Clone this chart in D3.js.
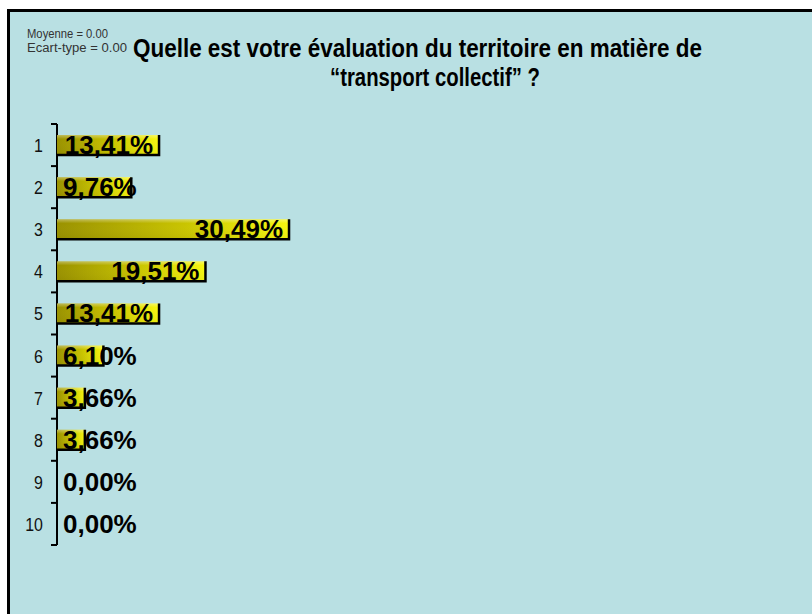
<!DOCTYPE html>
<html>
<head>
<meta charset="utf-8">
<script src="https://cdn.jsdelivr.net/npm/d3@7"></script>
<style>
  html, body { margin: 0; padding: 0; background: #ffffff; }
  svg { display: block; }
</style>
</head>
<body>
<svg id="chart" width="812" height="614"></svg>
<script>
// ---- data ----
const categories = ["1", "2", "3", "4", "5", "6", "7", "8", "9", "10"];
const values = [13.41, 9.76, 30.49, 19.51, 13.41, 6.10, 3.66, 3.66, 0.00, 0.00];
const valueLabels = ["13,41%", "9,76%", "30,49%", "19,51%", "13,41%", "6,10%", "3,66%", "3,66%", "0,00%", "0,00%"];
const titleLines = ["Quelle est votre évaluation du territoire en matière de", "“transport collectif” ?"];
const statLines = ["Moyenne = 0.00", "Ecart-type = 0.00"];

// ---- drawing ----
const svg = d3.select("#chart");
const sans = "'Liberation Sans', Arial, sans-serif";
const narrowScale = 0.84;

// panel
svg.append("rect")
  .attr("x", 8.5).attr("y", 10.5)
  .attr("width", 812).attr("height", 620)
  .attr("fill", "#b9e0e3")
  .attr("stroke", "#000").attr("stroke-width", 3);

const defs = svg.append("defs");
const grad = defs.append("linearGradient").attr("id", "barGrad")
  .attr("x1", "0").attr("y1", "0").attr("x2", "1").attr("y2", "0");
grad.append("stop").attr("offset", "0%").attr("stop-color", "#9a9200");
grad.append("stop").attr("offset", "55%").attr("stop-color", "#c9c400");
grad.append("stop").attr("offset", "100%").attr("stop-color", "#f6f610");
const shade = defs.append("linearGradient").attr("id", "barShade")
  .attr("x1", "0").attr("y1", "0").attr("x2", "0").attr("y2", "1");
shade.append("stop").attr("offset", "0%").attr("stop-color", "#ffffff").attr("stop-opacity", 0.35);
shade.append("stop").attr("offset", "20%").attr("stop-color", "#ffffff").attr("stop-opacity", 0.0);
shade.append("stop").attr("offset", "100%").attr("stop-color", "#000000").attr("stop-opacity", 0.05);

// scales
const axisX = 57;
const x = d3.scaleLinear().domain([0, 100]).range([axisX, axisX + 761]);
const y = d3.scaleBand().domain(categories).range([124, 545]).paddingInner(0).paddingOuter(0);
const barH = 20;

// axis line + boundary ticks
const axisG = svg.append("g");
axisG.append("line")
  .attr("x1", axisX).attr("x2", axisX)
  .attr("y1", y.range()[0]).attr("y2", y.range()[1])
  .attr("stroke", "#000").attr("stroke-width", 2);
const bounds = categories.map(c => y(c)).concat([y.range()[1]]);
axisG.selectAll("line.tick").data(bounds).enter().append("line")
  .attr("class", "tick")
  .attr("x1", axisX - 6).attr("x2", axisX)
  .attr("y1", d => d).attr("y2", d => d)
  .attr("stroke", "#000").attr("stroke-width", 2);

// category labels (condensed)
svg.append("g").selectAll("g").data(categories).enter().append("g")
  .attr("transform", d => `translate(43,${y(d) + y.bandwidth() / 2 + 7}) scale(${narrowScale},1)`)
  .append("text")
  .attr("text-anchor", "end")
  .attr("font-family", sans)
  .attr("font-size", 19)
  .attr("fill", "#111")
  .text(d => d);

// bars
const rows = categories.map((c, i) => ({ c, v: values[i], label: valueLabels[i] }));
const barG = svg.append("g");
rows.forEach(r => {
  if (r.v <= 0) return;
  const x0 = x(0), x1 = x(r.v);
  const yt = y(r.c) + (y.bandwidth() - barH) / 2;
  barG.append("rect")
    .attr("x", x0).attr("y", yt)
    .attr("width", x1 - x0).attr("height", barH)
    .attr("fill", "url(#barGrad)");
  barG.append("rect")
    .attr("x", x0).attr("y", yt)
    .attr("width", x1 - x0).attr("height", barH)
    .attr("fill", "url(#barShade)");
  barG.append("path")
    .attr("d", `M${x0},${yt + barH} L${x1},${yt + barH} L${x1},${yt}`)
    .attr("fill", "none")
    .attr("stroke", "#000").attr("stroke-width", 2.5);
});

// value labels
const labelG = svg.append("g");
rows.forEach(r => {
  const t = labelG.append("text")
    .attr("y", y(r.c) + y.bandwidth() / 2 + 9)
    .attr("font-family", sans)
    .attr("font-weight", "bold")
    .attr("font-size", 26)
    .attr("fill", "#000")
    .text(r.label);
  const w = t.node().getComputedTextLength();
  const xr = x(r.v) - 6 - w;
  t.attr("x", Math.max(axisX + 6, xr));
});

// title (condensed to fit measured widths)
const titleStart = [133, 330];
const titleWidth = [569, 210];
const titleBase = [57, 86];
svg.append("g").selectAll("text").data(titleLines).enter().append("text")
  .attr("x", (d, i) => titleStart[i])
  .attr("y", (d, i) => titleBase[i])
  .attr("textLength", (d, i) => titleWidth[i])
  .attr("lengthAdjust", "spacingAndGlyphs")
  .attr("font-family", sans)
  .attr("font-weight", "bold")
  .attr("font-size", 25)
  .attr("fill", "#000")
  .text(d => d);

// stats
const statWidth = [81, 100];
svg.append("g").selectAll("text").data(statLines).enter().append("text")
  .attr("x", 27)
  .attr("y", (d, i) => 38 + i * 14)
  .attr("textLength", (d, i) => statWidth[i])
  .attr("lengthAdjust", "spacingAndGlyphs")
  .attr("font-family", sans)
  .attr("font-size", 12.5)
  .attr("fill", "#333")
  .text(d => d);
</script>
</body>
</html>
